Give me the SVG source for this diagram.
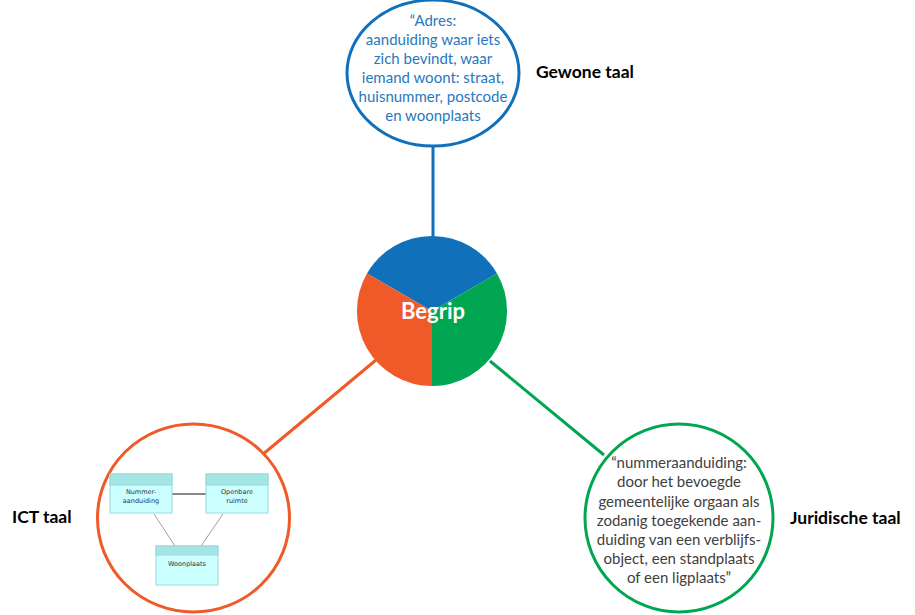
<svg xmlns="http://www.w3.org/2000/svg" width="915" height="615" viewBox="0 0 915 615">
<style>
.lbl{font-family:Lato,"Open Sans","Liberation Sans",sans-serif;font-weight:bold;font-size:17.5px;fill:#000}
.blue{font-family:Lato,"Open Sans","Liberation Sans",sans-serif;font-size:15px;fill:#2878C0;text-anchor:middle}
.green{font-family:Lato,"Open Sans","Liberation Sans",sans-serif;font-size:15px;fill:#404040;text-anchor:middle}
.box{fill:#ccffff;stroke:#99d8d8;stroke-width:1}
.hdr{fill:#a3e4e4;stroke:#99d8d8;stroke-width:1}
.uml{font-family:"DejaVu Sans","Liberation Sans",sans-serif;font-size:6.5px;fill:#333;text-anchor:middle}
</style>
<rect width="915" height="615" fill="#fff"/>
<g id="connectors" stroke-width="3" fill="none">
<line x1="433" y1="146" x2="433" y2="240" stroke="#1070BA"/>
<line x1="376" y1="360" x2="262" y2="455" stroke="#F05A28"/>
<line x1="490" y1="361" x2="604" y2="455" stroke="#00A651"/>
</g>
<g id="begrip">
<path d="M432,311 L367,273.5 A75,75 0 0 1 497,273.5 Z" fill="#1070BA"/>
<path d="M432,311 L497,273.5 A75,75 0 0 1 432,386 Z" fill="#00A651"/>
<path d="M432,311 L432,386 A75,75 0 0 1 367,273.5 Z" fill="#F05A28"/>
<text x="433" y="319" text-anchor="middle" font-family="Lato,'Open Sans','Liberation Sans',sans-serif" font-weight="bold" font-size="22" fill="#fff">Begrip</text>
</g>
<g id="gewone">
<ellipse cx="433" cy="73" rx="86" ry="73" fill="#fff" stroke="#1070BA" stroke-width="3"/>
<text class="blue" x="433" y="26">“Adres:</text>
<text class="blue" x="433" y="45">aanduiding waar iets</text>
<text class="blue" x="433" y="64">zich bevindt, waar</text>
<text class="blue" x="433" y="83">iemand woont: straat,</text>
<text class="blue" x="433" y="102">huisnummer, postcode</text>
<text class="blue" x="433" y="121">en woonplaats</text>
<text class="lbl" x="536" y="78">Gewone taal</text>
</g>
<g id="ict">
<ellipse cx="193.5" cy="518" rx="96" ry="94" fill="#fff" stroke="#F05A28" stroke-width="3"/>
<g stroke="#888" fill="none">
<line x1="172" y1="494" x2="206" y2="494" stroke-width="2"/>
<line x1="154" y1="514" x2="175" y2="546" stroke-width="0.8"/>
<line x1="223" y1="514" x2="201" y2="546" stroke-width="0.8"/>
</g>
<rect class="box" x="110" y="474" width="62" height="39"/>
<rect class="hdr" x="110" y="474" width="62" height="11"/>
<text class="uml" x="141" y="494">Nummer-</text>
<text class="uml" x="141" y="503">aanduiding</text>
<rect class="box" x="206" y="474" width="62" height="39"/>
<rect class="hdr" x="206" y="474" width="62" height="11"/>
<text class="uml" x="237" y="494">Openbare</text>
<text class="uml" x="237" y="503">ruimte</text>
<rect class="box" x="156" y="546" width="62" height="39"/>
<rect class="hdr" x="156" y="546" width="62" height="9"/>
<text class="uml" x="187" y="566">Woonplaats</text>
<text class="lbl" x="12" y="523">ICT taal</text>
</g>
<g id="juridisch">
<ellipse cx="679" cy="518" rx="94" ry="94" fill="#fff" stroke="#00A651" stroke-width="3"/>
<text class="green" x="679" y="468">“nummeraanduiding:</text>
<text class="green" x="679" y="487">door het bevoegde</text>
<text class="green" x="679" y="507">gemeentelijke orgaan als</text>
<text class="green" x="679" y="526">zodanig toegekende aan-</text>
<text class="green" x="679" y="545">duiding van een verblijfs-</text>
<text class="green" x="679" y="564">object, een standplaats</text>
<text class="green" x="679" y="583">of een ligplaats”</text>
<text class="lbl" x="790" y="524">Juridische taal</text>
</g>
</svg>
